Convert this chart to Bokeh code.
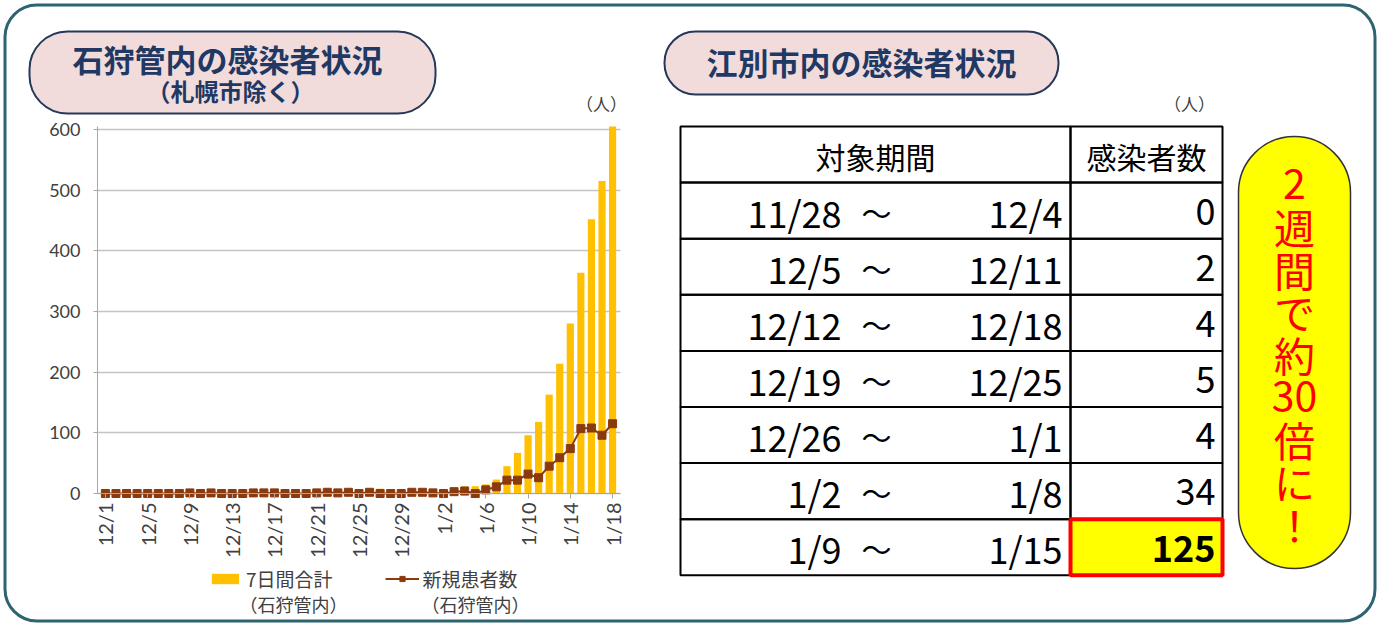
import math
from bokeh.plotting import figure
from bokeh.models import (Range1d, FixedTicker, Label, BoxAnnotation, Legend,
                          LegendItem, ColumnDataSource, LinearAxis, Grid)
from bokeh.embed import file_html
from bokeh.resources import INLINE

# ---------------- data ----------------
tick_labels = ["12/1", "12/5", "12/9", "12/13", "12/17", "12/21", "12/25",
               "12/29", "1/2", "1/6", "1/10", "1/14", "1/18"]
# 7日間合計（石狩管内） 12/1 .. 1/18
seven_day_total = [1, 1, 1, 1, 0, 0, 0, 0, 1, 1, 2, 2, 2, 2, 3, 3, 4, 3, 3, 3,
                   4, 5, 5, 6, 6, 8, 8, 7, 5, 6, 6,
                   7, 5, 8, 12, 12, 15, 23, 45, 67, 96, 118, 163, 214, 280,
                   364, 452, 515, 605]
# 新規患者数（石狩管内） 12/1 .. 1/18
daily_new = [0, 0, 0, 0, 0, 0, 0, 0, 1, 0, 1, 0, 0, 0, 1, 1, 1, 0, 0, 0,
             1, 2, 1, 2, 0, 2, 0, 0, 0, 2, 2,
             1, 0, 3, 4, 0, 6, 11, 22, 22, 32, 26, 45, 59, 74, 107, 108, 96, 115]

period_start = ["11/28", "12/5", "12/12", "12/19", "12/26", "1/2", "1/9"]
period_end = ["12/4", "12/11", "12/18", "12/25", "1/1", "1/8", "1/15"]
ebetsu_cases = [0, 2, 4, 5, 4, 34, 125]

callout_chars = ["2", "週", "間", "で", "約", "30", "倍", "に", "！"]

# ---------------- layout ----------------
W, H = 1382, 624
JP = "Noto Sans CJK JP"
NAVY = "#1f3864"


def X(x):   # picture x -> canvas data x
    return x


def Y(y):   # picture y (down) -> canvas data y (up)
    return H - y


p = figure(width=W, height=H, output_backend="svg", toolbar_location=None,
           x_range=Range1d(0, W), y_range=Range1d(0, H),
           x_axis_type=None, y_axis_type=None, min_border=0)
p.outline_line_color = None
p.background_fill_color = "white"
p.border_fill_color = "white"
p.xgrid.visible = False
p.ygrid.visible = False

# chart placement: day 0 at x 104.9, 10.566 px/day; value 0 at y 493, 0.6067 px/case
day0_px, day_px = X(104.9), 10.566
zero_px, case_px = Y(493.0), 0.6067
p.extra_x_ranges = {"day": Range1d(-day0_px / day_px, (W - day0_px) / day_px)}
p.extra_y_ranges = {"cases": Range1d(-zero_px / case_px, (H - zero_px) / case_px)}
d_lo, d_hi = -0.75, 48.75

days = list(range(len(daily_new)))
src = ColumnDataSource(dict(day=days, total=seven_day_total, new=daily_new))

ygrid = Grid(dimension=1, ticker=FixedTicker(ticks=list(range(0, 601, 100))),
             x_range_name="day", y_range_name="cases",
             cross_bounds=(d_lo, d_hi),
             grid_line_color="#c4c4c4", grid_line_width=1.4)
p.add_layout(ygrid)

bars = p.vbar(x="day", top="total", bottom=0, width=0.68, source=src,
              fill_color="#FFC000", line_color=None,
              x_range_name="day", y_range_name="cases")
ln = p.line(x="day", y="new", source=src, line_color="#8B3A0E", line_width=2,
            x_range_name="day", y_range_name="cases")
pts = p.scatter(x="day", y="new", source=src, marker="square", size=8,
                fill_color="#8B3A0E", line_color="#8B3A0E",
                x_range_name="day", y_range_name="cases")

yaxis = LinearAxis(x_range_name="day", y_range_name="cases",
                   fixed_location=d_lo, bounds=(0, 605),
                   ticker=FixedTicker(ticks=list(range(0, 601, 100))),
                   axis_line_color="#a6a6a6", major_tick_line_color="#a6a6a6",
                   major_tick_out=4, major_tick_in=0,
                   minor_tick_line_color=None, major_label_standoff=13,
                   major_label_text_font="Lato",
                   major_label_text_font_size="18px",
                   major_label_text_color="#404040")
p.add_layout(yaxis, "left")

xaxis = LinearAxis(x_range_name="day", y_range_name="cases",
                   fixed_location=0, bounds=(d_lo, d_hi),
                   ticker=FixedTicker(ticks=[i * 4 for i in range(len(tick_labels))]),
                   major_label_overrides={i * 4: t for i, t in enumerate(tick_labels)},
                   major_label_orientation=math.pi / 2,
                   axis_line_color="#a6a6a6", major_tick_line_color="#a6a6a6",
                   major_tick_in=0, major_tick_out=5,
                   minor_tick_line_color=None, major_label_standoff=4,
                   major_label_text_font="Lato",
                   major_label_text_font_size="20px",
                   major_label_text_color="#404040")
p.add_layout(xaxis, "below")

# legend
legend = Legend(items=[LegendItem(label="7日間合計", renderers=[bars]),
                       LegendItem(label="新規患者数", renderers=[ln, pts])],
                orientation="horizontal", location=(X(208), Y(580) - 12),
                glyph_width=34, glyph_height=13, label_height=13,
                label_standoff=4, spacing=52, padding=0, margin=0,
                border_line_color=None, background_fill_alpha=0,
                label_text_font=JP, label_text_font_size="19px",
                label_text_color="#404040")
p.add_layout(legend)


def box(x0, y0, x1, y1, fill=None, line="black", lw=2, radius=0):
    b = BoxAnnotation(left=X(x0), right=X(x1), top=Y(y0), bottom=Y(y1),
                      fill_color=fill if fill else "white",
                      fill_alpha=1 if fill else 0,
                      line_color=line, line_width=lw, line_alpha=1,
                      border_radius=radius)
    p.add_layout(b)
    return b


def label(text, x, y, size, color="black", align="center", font=JP,
          style="normal"):
    p.add_layout(Label(x=X(x), y=Y(y), text=text, text_align=align,
                       text_baseline="middle", text_font=font,
                       text_font_size=f"{size}px", text_color=color,
                       text_font_style=style))


for cx in (293, 475):
    label("（石狩管内）", cx, 603, 18, color="#404040")

# outer frame
box(4.5, 4.5, 1374.5, 620.5, fill=None, line="#2e6370", lw=3, radius=32)

# title pills
box(29, 31, 435, 113, fill="#f2dcdb", line="#26385a", lw=2, radius=38)
label("石狩管内の感染者状況", 227, 58, 31, color=NAVY, style="bold")
label("（札幌市除く）", 230, 90, 24, color=NAVY, style="bold")

box(664, 31, 1058, 94, fill="#f2dcdb", line="#26385a", lw=2, radius=31)
label("江別市内の感染者状況", 861, 61, 31, color=NAVY, style="bold")

label("（人）", 601, 103, 17, color="#404040")
label("（人）", 1189, 103, 17, color="#404040")

# table
top, rh = 126, 56.1
xl, xm, xr = 680, 1070, 1222
n_rows = len(ebetsu_cases) + 1
for r in range(n_rows):
    y0 = top + r * rh
    box(xl, y0, xm, y0 + rh)
    box(xm, y0, xr, y0 + rh)
label("対象期間", 875, top + rh / 2 + 1, 30)
label("感染者数", 1146, top + rh / 2 + 1, 30)

last = len(ebetsu_cases) - 1
box(xm, top + (last + 1) * rh, xr, top + (last + 2) * rh,
    fill="#ffff00", line="#ff0000", lw=4)

for i in range(len(ebetsu_cases)):
    yc = top + (i + 1) * rh + rh / 2 + 1
    label(period_start[i], 841, yc, 36, align="right")
    label("～", 876, yc, 30)
    label(period_end[i], 1062, yc, 36, align="right")
    label(str(ebetsu_cases[i]), 1215, yc, 36, align="right",
          style="bold" if i == last else "normal")

# call-out balloon
box(1238, 136, 1350, 568, fill="#ffff00", line="#333333", lw=1.5, radius=56)
for k, ch in enumerate(callout_chars):
    label(ch, 1294, 183 + k * 42.5, 41, color="#ff0000")

open("out.html", "w").write(file_html(p, INLINE))
